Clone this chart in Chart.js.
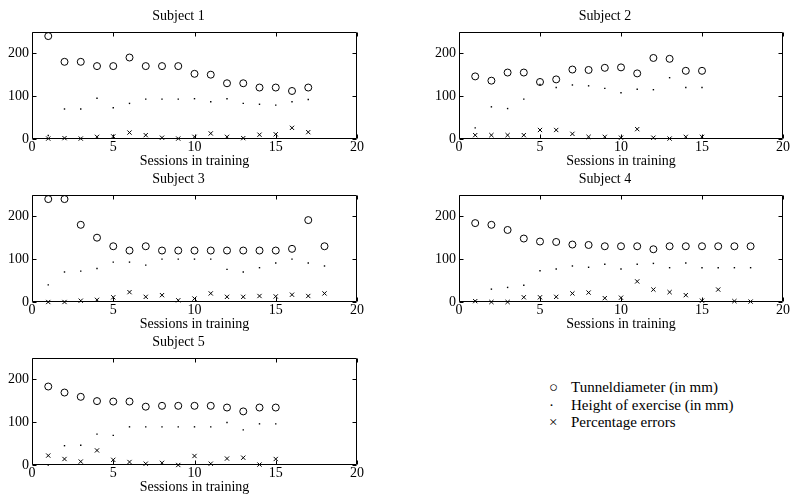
<!DOCTYPE html>
<html>
<head>
<meta charset="utf-8">
<script src="https://cdn.jsdelivr.net/npm/chart.js@4.4.0/dist/chart.umd.min.js"></script>
<style>
  html, body { margin: 0; padding: 0; background: #fff; overflow: hidden; }
  body { width: 791px; height: 495px; position: relative; }
  canvas { position: absolute; }
  .legend { position: absolute; left: 549px; top: 379px; font-family: "Liberation Serif", serif; font-size: 15px; color: #000; }
  .legend div { height: 17.5px; line-height: 17.5px; white-space: nowrap; }
  .legend span.m { display: inline-block; width: 22px; text-align: left; }
</style>
</head>
<body>
<canvas id="c1" width="395" height="173" style="left:0;top:0"></canvas>
<canvas id="c2" width="364" height="173" style="left:427px;top:0"></canvas>
<canvas id="c3" width="395" height="173" style="left:0;top:163px"></canvas>
<canvas id="c4" width="364" height="173" style="left:427px;top:163px"></canvas>
<canvas id="c5" width="395" height="173" style="left:0;top:326px"></canvas>
<div class="legend">
  <div><span class="m">○</span>Tunneldiameter (in mm)</div>
  <div><span class="m">·</span>Height of exercise (in mm)</div>
  <div><span class="m">×</span>Percentage errors</div>
</div>
<script>
// values
const sessions1 = [1, 2, 3, 4, 5, 6, 7, 8, 9, 10, 11, 12, 13, 14, 15, 16, 17];
const tunnel1 = [240, 180, 180, 170, 170, 190, 170, 170, 170, 152, 150, 130, 130, 120, 120, 112, 120];
const height1 = [8, 70, 70, 95, 73, 83, 93, 93, 93, 94, 87, 94, 83, 81, 79, 87, 92];
const errors1 = [1, 2, 1, 5, 6, 15, 9, 3, 1, 5, 13, 5, 2, 10, 11, 26, 16];

const sessions2 = [1, 2, 3, 4, 5, 6, 7, 8, 9, 10, 11, 12, 13, 14, 15];
const tunnel2 = [146, 136, 155, 155, 133, 139, 162, 161, 166, 167, 153, 189, 187, 159, 159];
const height2 = [26, 75, 71, 93, 127, 120, 126, 124, 118, 108, 116, 115, 143, 120, 120];
const errors2 = [9, 9, 9, 9, 21, 21, 12, 5, 5, 3, 23, 3, 1, 5, 5];

const sessions3 = [1, 2, 3, 4, 5, 6, 7, 8, 9, 10, 11, 12, 13, 14, 15, 16, 17, 18];
const tunnel3 = [240, 240, 180, 150, 130, 120, 130, 120, 120, 120, 120, 120, 120, 120, 120, 124, 191, 130];
const height3 = [40, 70, 72, 78, 93, 93, 86, 100, 100, 100, 100, 76, 70, 80, 91, 100, 91, 84];
const errors3 = [0, 0, 3, 5, 11, 23, 12, 16, 4, 8, 20, 12, 12, 14, 13, 17, 14, 20];

const sessions4 = [1, 2, 3, 4, 5, 6, 7, 8, 9, 10, 11, 12, 13, 14, 15, 16, 17, 18];
const tunnel4 = [184, 180, 168, 148, 141, 140, 134, 133, 130, 130, 130, 123, 130, 130, 130, 130, 130, 130];
const height4 = [2, 30, 34, 39, 73, 77, 84, 81, 88, 77, 88, 90, 80, 91, 80, 80, 80, 80];
const errors4 = [2, 0, 0, 11, 11, 12, 20, 22, 9, 10, 48, 29, 23, 16, 3, 29, 2, 1];

const sessions5 = [1, 2, 3, 4, 5, 6, 7, 8, 9, 10, 11, 12, 13, 14, 15];
const tunnel5 = [183, 169, 159, 149, 148, 148, 136, 138, 138, 138, 138, 134, 125, 134, 134];
const height5 = [0, 45, 46, 72, 69, 89, 89, 89, 89, 89, 89, 99, 82, 96, 96];
const errors5 = [22, 14, 8, 34, 12, 7, 3, 5, 0, 21, 3, 15, 17, 1, 14];

const xTicks = [0, 5, 10, 15, 20];
const yTicks = [0, 100, 200];

const FONT = { family: "Liberation Serif, serif", size: 14, weight: "normal" };

// box round the plot with inward ticks on all four sides
const frame = {
  id: "frame",
  beforeDatasetsDraw(chart) {
    const { ctx, chartArea: a, scales: { x, y } } = chart;
    const L = Math.round(a.left) + 0.5, R = Math.round(a.right) - 0.5;
    const T = Math.round(a.top) + 0.5, B = Math.round(a.bottom) - 0.5;
    ctx.save();
    ctx.strokeStyle = "#000";
    ctx.lineWidth = 1;
    ctx.beginPath();
    ctx.rect(L, T, R - L, B - T);
    x.ticks.forEach((t) => {
      const px = Math.round(x.getPixelForValue(t.value)) + 0.5;
      ctx.moveTo(px, B); ctx.lineTo(px, B - 4);
      ctx.moveTo(px, T); ctx.lineTo(px, T + 4);
    });
    y.ticks.forEach((t) => {
      const py = Math.round(y.getPixelForValue(t.value)) + 0.5;
      ctx.moveTo(L, py); ctx.lineTo(L + 4, py);
      ctx.moveTo(R, py); ctx.lineTo(R - 4, py);
    });
    ctx.stroke();
    ctx.restore();
  },
};

const pts = (xs, ys) => xs.map((x, i) => ({ x, y: ys[i] }));

function makeChart(id, title, sessions, tunnel, height, errors, rightPad) {
  const ctx = document.getElementById(id).getContext("2d");
  return new Chart(ctx, {
    type: "scatter",
    data: {
      datasets: [
        {
          label: "Tunneldiameter (in mm)",
          data: pts(sessions, tunnel),
          pointStyle: "circle",
          pointRadius: 3.5,
          borderColor: "#000",
          backgroundColor: "rgba(0,0,0,0)",
          borderWidth: 1,
          clip: false,
        },
        {
          label: "Height of exercise (in mm)",
          data: pts(sessions, height),
          pointStyle: "rect",
          pointRadius: 1,
          borderColor: "#000",
          backgroundColor: "#000",
          borderWidth: 0,
          clip: false,
        },
        {
          label: "Percentage errors",
          data: pts(sessions, errors),
          pointStyle: "crossRot",
          pointRadius: 3,
          borderColor: "#000",
          borderWidth: 1,
          clip: false,
        },
      ],
    },
    options: {
      responsive: false,
      animation: false,
      events: [],
      layout: { padding: { left: 0, right: rightPad, top: 0, bottom: 0 } },
      plugins: {
        legend: { display: false },
        tooltip: { enabled: false },
        title: {
          display: true,
          text: title,
          color: "#000",
          font: FONT,
          padding: { top: 8, bottom: 7 },
        },
      },
      scales: {
        x: {
          type: "linear",
          min: 0,
          max: 20,
          afterBuildTicks: (s) => { s.ticks = xTicks.map((v) => ({ value: v })); },
          afterFit: (s) => { s.height = 34; },
          ticks: { color: "#000", font: FONT, padding: 0, maxRotation: 0 },
          grid: { display: false, drawTicks: false },
          border: { display: false },
          title: {
            display: true,
            text: "Sessions in training",
            color: "#000",
            font: FONT,
            padding: { top: 0, bottom: 3 },
          },
        },
        y: {
          type: "linear",
          min: 0,
          max: 250,
          afterBuildTicks: (s) => { s.ticks = yTicks.map((v) => ({ value: v })); },
          afterFit: (s) => { s.width = 32; },
          ticks: { color: "#000", font: FONT, padding: 3 },
          grid: { display: false, drawTicks: false },
          border: { display: false },
        },
      },
    },
    plugins: [frame],
  });
}

makeChart("c1", "Subject 1", sessions1, tunnel1, height1, errors1, 38);
makeChart("c2", "Subject 2", sessions2, tunnel2, height2, errors2, 8);
makeChart("c3", "Subject 3", sessions3, tunnel3, height3, errors3, 38);
makeChart("c4", "Subject 4", sessions4, tunnel4, height4, errors4, 8);
makeChart("c5", "Subject 5", sessions5, tunnel5, height5, errors5, 38);
</script>
</body>
</html>
